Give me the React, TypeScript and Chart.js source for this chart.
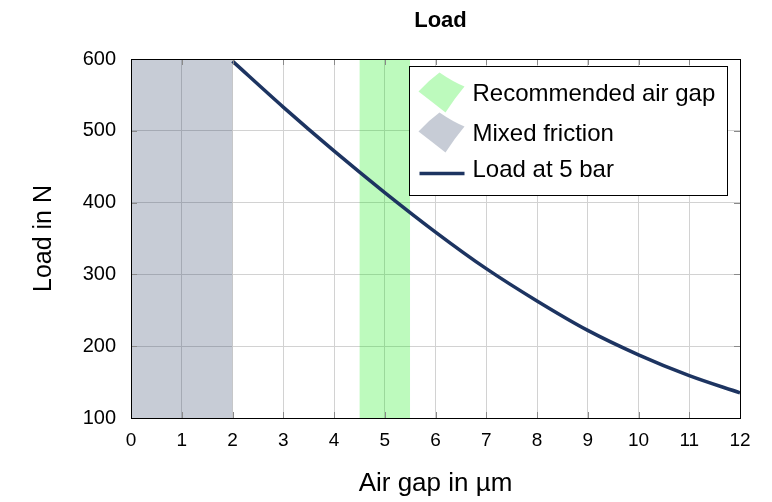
import React, { useEffect, useRef } from 'react';
import { Chart, registerables } from 'chart.js';

Chart.register(...registerables);

const chartTitle = 'Load';
const xAxisTitle = 'Air gap in µm';
const yAxisTitle = 'Load in N';

const xMin = 0;
const xMax = 12;
const yMin = 100;
const yMax = 600;

const gapValues = [2, 3, 4, 5, 6, 7, 8, 9, 10, 11, 12];
const loadValues = [597, 533, 472, 414, 359, 308, 263, 222, 188, 159, 135];

const recommendedRange = [4.5, 5.5];
const mixedFrictionRange = [0, 2];

const seriesLabels = ['Recommended air gap', 'Mixed friction', 'Load at 5 bar'];

const FONT = "'Liberation Sans', Arial, Helvetica, sans-serif";
const GREEN = 'rgba(0, 235, 0, 0.26)';
const GREY = 'rgba(30, 52, 92, 0.25)';
const NAVY = '#1d3461';

const framePlugin = {
  id: 'frameTicks',
  afterDatasetsDraw(chart: any) {
    const { ctx, chartArea } = chart;
    const { left, right, top, bottom } = chartArea;
    const xs = chart.scales.x;
    const ys = chart.scales.y;
    ctx.save();
    ctx.strokeStyle = '#8a8a8a';
    ctx.lineWidth = 1;
    const tl = 6;
    xs.ticks.forEach((t: any) => {
      const px = Math.round(xs.getPixelForValue(t.value)) + 0.5;
      ctx.beginPath();
      ctx.moveTo(px, bottom);
      ctx.lineTo(px, bottom - tl);
      ctx.moveTo(px, top);
      ctx.lineTo(px, top + tl);
      ctx.stroke();
    });
    ys.ticks.forEach((t: any) => {
      const py = Math.round(ys.getPixelForValue(t.value)) + 0.5;
      ctx.beginPath();
      ctx.moveTo(left, py);
      ctx.lineTo(left + tl, py);
      ctx.moveTo(right, py);
      ctx.lineTo(right - tl, py);
      ctx.stroke();
    });
    ctx.strokeStyle = '#000';
    ctx.strokeRect(Math.round(left) + 0.5, Math.round(top) + 0.5, Math.round(right - left), Math.round(bottom - top));
    ctx.restore();
  },
};

const legendPlugin = {
  id: 'boxLegend',
  afterDraw(chart: any) {
    const { ctx, chartArea } = chart;
    const boxW = 318;
    const boxH = 129;
    const bx = Math.round(chartArea.right - 13 - boxW) + 0.5;
    const by = Math.round(chartArea.top + 7) + 0.5;
    ctx.save();
    ctx.fillStyle = '#fff';
    ctx.fillRect(bx, by, boxW, boxH);
    ctx.strokeStyle = '#000';
    ctx.lineWidth = 1;
    ctx.strokeRect(bx, by, boxW, boxH);
    const rows = [28, 68, 104];
    const mx = bx + 9;
    chart.data.datasets.forEach((ds: any, i: number) => {
      const cy = by + rows[i];
      if (ds.fill) {
        ctx.fillStyle = ds.backgroundColor;
        ctx.beginPath();
        ctx.moveTo(mx, cy - 3);
        ctx.quadraticCurveTo(mx + 10, cy - 14, mx + 21, cy - 22);
        ctx.quadraticCurveTo(mx + 34, cy - 13, mx + 46, cy - 8);
        ctx.quadraticCurveTo(mx + 36, cy + 4, mx + 27, cy + 18);
        ctx.quadraticCurveTo(mx + 13, cy + 7, mx, cy - 3);
        ctx.closePath();
        ctx.fill();
      } else {
        ctx.strokeStyle = ds.borderColor;
        ctx.lineWidth = ds.borderWidth;
        ctx.beginPath();
        ctx.moveTo(mx + 1, cy + 3);
        ctx.lineTo(mx + 46, cy + 3);
        ctx.stroke();
      }
      ctx.fillStyle = '#000';
      ctx.font = `24px ${FONT}`;
      ctx.textAlign = 'left';
      ctx.textBaseline = 'middle';
      ctx.fillText(ds.label, bx + 63, cy);
    });
    ctx.restore();
  },
};

const titlePlugin = {
  id: 'plotTitle',
  afterDraw(chart: any) {
    const { ctx, chartArea } = chart;
    ctx.save();
    ctx.fillStyle = '#000';
    ctx.font = `bold 22px ${FONT}`;
    ctx.textAlign = 'center';
    ctx.textBaseline = 'middle';
    ctx.fillText(chartTitle, (chartArea.left + chartArea.right) / 2 + 5, 21);
    ctx.restore();
  },
};

export default function App() {
  const ref = useRef<HTMLCanvasElement>(null);

  useEffect(() => {
    const regionData = (range: number[]) => range.map((x) => ({ x, y: yMax }));
    const chart = new Chart(ref.current as HTMLCanvasElement, {
      type: 'line',
      data: {
        datasets: [
          {
            label: seriesLabels[0],
            data: regionData(recommendedRange),
            backgroundColor: GREEN,
            borderWidth: 0,
            pointRadius: 0,
            fill: 'start',
            order: 2,
          },
          {
            label: seriesLabels[1],
            data: regionData(mixedFrictionRange),
            backgroundColor: GREY,
            borderWidth: 0,
            pointRadius: 0,
            fill: 'start',
            order: 1,
          },
          {
            label: seriesLabels[2],
            data: gapValues.map((x, i) => ({ x, y: loadValues[i] })),
            borderColor: NAVY,
            borderWidth: 3.5,
            pointRadius: 0,
            fill: false,
            cubicInterpolationMode: 'monotone',
            order: 0,
          },
        ] as any,
      },
      options: {
        animation: false,
        responsive: true,
        maintainAspectRatio: false,
        layout: { padding: { top: 59, right: 32, bottom: 0, left: 0 } },
        plugins: {
          legend: { display: false },
          tooltip: { enabled: false },
          title: { display: false },
        },
        scales: {
          x: {
            type: 'linear',
            min: xMin,
            max: xMax,
            afterFit: (s: any) => {
              s.height = 84;
            },
            ticks: {
              stepSize: 1,
              color: '#000',
              padding: 11,
              font: { family: FONT, size: 19 },
            },
            grid: { color: '#d2d2d2', drawTicks: false, lineWidth: 1 },
            border: { display: false },
            title: {
              display: true,
              text: xAxisTitle,
              color: '#000',
              font: { family: FONT, size: 26 },
              padding: { top: 0, bottom: 3 },
            },
          },
          y: {
            type: 'linear',
            min: yMin,
            max: yMax,
            afterFit: (s: any) => {
              s.width = 131;
            },
            ticks: {
              stepSize: 100,
              color: '#000',
              padding: 15,
              font: { family: FONT, size: 20 },
            },
            grid: { color: '#d2d2d2', drawTicks: false, lineWidth: 1 },
            border: { display: false },
            title: {
              display: true,
              text: yAxisTitle,
              color: '#000',
              font: { family: FONT, size: 25 },
              padding: { top: 29, bottom: 0 },
            },
          },
        },
      },
      plugins: [framePlugin, legendPlugin, titlePlugin],
    });
    return () => chart.destroy();
  }, []);

  return (
    <div style={{ position: 'fixed', left: 0, top: 0, width: 772, height: 502, background: '#fff' }}>
      <canvas ref={ref} />
    </div>
  );
}
